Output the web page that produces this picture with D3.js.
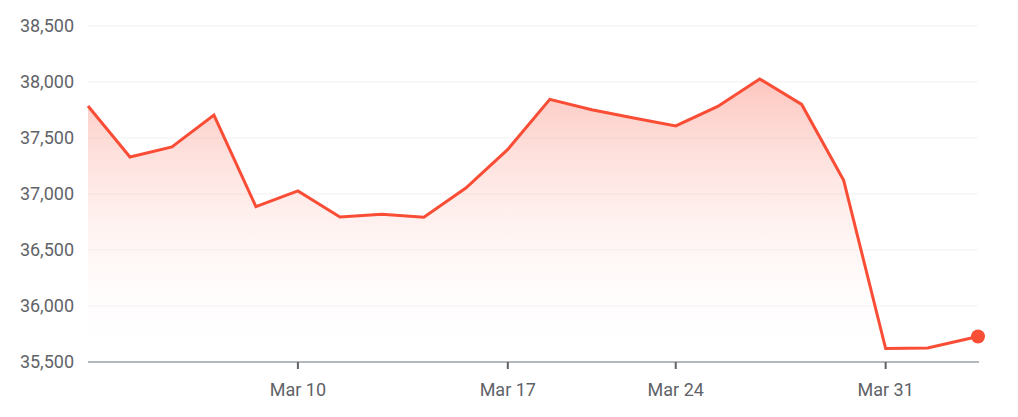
<!DOCTYPE html>
<html>
<head>
<meta charset="utf-8">
<script src="https://cdn.jsdelivr.net/npm/d3@7"></script>
<style>
  body { margin: 0; background: #fff; }
  text { font-family: Roboto, "Noto Sans", sans-serif; }
</style>
</head>
<body>
<div id="chart"></div>
<script>
// trading days, Mar 3 - Apr 2 (last point is intraday)
const dates = ["Mar 3", "Mar 4", "Mar 5", "Mar 6", "Mar 7",
    "Mar 10", "Mar 11", "Mar 12", "Mar 13", "Mar 14",
    "Mar 17", "Mar 18", "Mar 19", "Mar 21",
    "Mar 24", "Mar 25", "Mar 26", "Mar 27", "Mar 28",
    "Mar 31", "Apr 1", "Apr 2"];
const dayIndex = [0, 1, 2, 3, 4, 5, 6, 7, 8, 9, 10, 11, 12, 13, 14, 15, 16, 17, 18, 19, 20, 21.2];
const values = [37786, 37330, 37420, 37705, 36887,
    37028, 36795, 36820, 36792, 37053,
    37398, 37845, 37752, 37678,
    37608, 37782, 38027, 37800, 37122,
    35620, 35626, 35728];
const yTicks = [35500, 36000, 36500, 37000, 37500, 38000, 38500];
const xTickLabels = ["Mar 10", "Mar 17", "Mar 24", "Mar 31"];

const W = 1018, H = 417;
const margin = { top: 26, right: 40, bottom: 55, left: 88 };
const width = W - margin.left - margin.right;
const height = H - margin.top - margin.bottom;
const lineColor = "#f94d36";

const data = dates.map((d, i) => ({ date: d, idx: dayIndex[i], value: values[i] }));

const svg = d3.select("#chart").append("svg")
    .attr("width", W)
    .attr("height", H);

const defs = svg.append("defs");
const grad = defs.append("linearGradient")
    .attr("id", "fillGrad")
    .attr("x1", 0).attr("y1", 0).attr("x2", 0).attr("y2", 1);
grad.append("stop").attr("offset", "0%").attr("stop-color", lineColor).attr("stop-opacity", 0.32);
grad.append("stop").attr("offset", "100%").attr("stop-color", "#ffffff").attr("stop-opacity", 0);

const g = svg.append("g")
    .attr("transform", `translate(${margin.left},${margin.top})`);

const x = d3.scaleLinear()
    .domain([0, 21.2])
    .range([0, width]);

const y = d3.scaleLinear()
    .domain([35500, 38500])
    .range([height, 0]);

// gridlines
g.append("g")
    .selectAll("line")
    .data(yTicks.slice(1))
    .enter()
    .append("line")
    .attr("x1", 0)
    .attr("x2", width)
    .attr("y1", d => y(d))
    .attr("y2", d => y(d))
    .attr("stroke", "#f1f1f1")
    .attr("stroke-width", 1);

// y labels
g.append("g")
    .selectAll("text")
    .data(yTicks)
    .enter()
    .append("text")
    .attr("x", -14)
    .attr("y", d => y(d))
    .attr("dy", "0.35em")
    .attr("text-anchor", "end")
    .attr("font-size", 18)
    .attr("fill", "#5f6368")
    .text(d => d3.format(",")(d));

// area + line
const area = d3.area()
    .x(d => x(d.idx))
    .y0(height)
    .y1(d => y(d.value));

const line = d3.line()
    .x(d => x(d.idx))
    .y(d => y(d.value));

g.append("path")
    .datum(data)
    .attr("d", area)
    .attr("fill", "url(#fillGrad)");

// x axis
g.append("line")
    .attr("x1", 0)
    .attr("x2", width + 1)
    .attr("y1", height)
    .attr("y2", height)
    .attr("stroke", "#9aa0a6")
    .attr("stroke-width", 1.5);

const xTicks = data.filter(d => xTickLabels.includes(d.date));

g.append("g")
    .selectAll("line")
    .data(xTicks)
    .enter()
    .append("line")
    .attr("x1", d => x(d.idx))
    .attr("x2", d => x(d.idx))
    .attr("y1", height)
    .attr("y2", height + 7)
    .attr("stroke", "#5f6368")
    .attr("stroke-width", 2);

g.append("g")
    .selectAll("text")
    .data(xTicks)
    .enter()
    .append("text")
    .attr("x", d => x(d.idx))
    .attr("y", height + 34)
    .attr("text-anchor", "middle")
    .attr("font-size", 18)
    .attr("fill", "#5f6368")
    .text(d => d.date);

g.append("path")
    .datum(data)
    .attr("d", line)
    .attr("fill", "none")
    .attr("stroke", lineColor)
    .attr("stroke-width", 3)
    .attr("stroke-linejoin", "miter");

// last point marker
const last = data[data.length - 1];
g.append("circle")
    .attr("cx", x(last.idx))
    .attr("cy", y(last.value))
    .attr("r", 7)
    .attr("fill", lineColor);
</script>
</body>
</html>
